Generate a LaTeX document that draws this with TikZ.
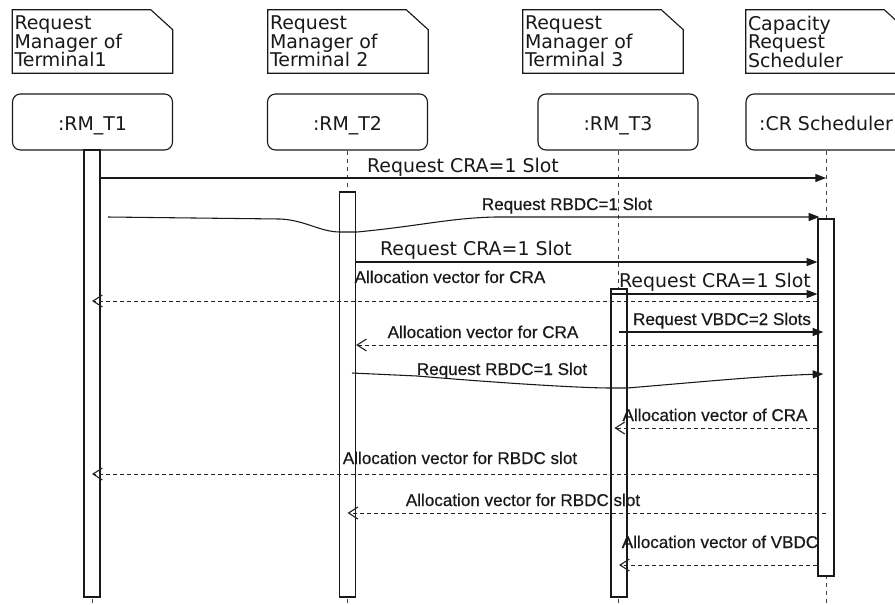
\documentclass[tikz,border=0pt]{standalone}
\usepackage{fontspec}
\setmainfont{DejaVu Sans}
\newfontfamily\arialf[FakeBold=0.5]{Liberation Sans}
\usetikzlibrary{arrows.meta}
\begin{document}
\begin{tikzpicture}[x=0.75pt,y=-0.75pt,
  bigfont/.style={font=\fontsize{14.2}{13.9}\selectfont},
  smallfont/.style={font=\arialf\fontsize{12.8}{14}\selectfont},
  notenode/.style={minimum width=120pt,minimum height=47.25pt,inner sep=1.5pt,
     text width=117pt,align=left,bigfont,text=black!90},
  noteline/.style={draw=black!90,line width=0.85pt},
  head/.style={draw=black!90,line width=0.85pt,rounded corners=6pt,minimum width=120pt,
     minimum height=42pt,bigfont,text height=12pt,text depth=0pt,text=black!90},
  bar/.style={draw=black!90,fill=white,line width=0.9pt,minimum width=12pt,inner sep=0pt},
  lifeline/.style={draw=black!75,line width=0.75pt,dash pattern=on 3.5pt off 2.5pt},
  msg/.style={draw=black!90,line width=0.8pt,-{Triangle[length=8pt,width=6pt]}},
  reply/.style={draw=black!85,line width=0.75pt,dash pattern=on 3pt off 2.25pt,
     -{Straight Barb[length=7pt,width=9pt,line width=0.85pt]}},
  lbl/.style={smallfont,anchor=base,inner sep=0pt,text=black!90},
  blbl/.style={bigfont,anchor=base,inner sep=0pt,text=black!90}
]
\useasboundingbox (0,0) rectangle (895,604);
\fill[white] (0,0) rectangle (895,604);
\clip (0,0) rectangle (895,604);

% notes
\node[notenode] (n1) at (92.5,41.5) {Request\\Manager of\\Terminal1};
\node[notenode] (n2) at (348,41.5) {Request\\Manager of\\Terminal 2};
\node[notenode] (n3) at (603,41.5) {Request\\Manager of\\Terminal 3};
\node[notenode] (n4) at (826,41.5) {Capacity\\Request\\Scheduler};
\foreach \n in {n1,n2,n3,n4}{
  \draw[noteline] (\n.north west) -- ([xshift=-16.5pt]\n.north east)
     -- ([yshift=-15pt]\n.north east) -- (\n.south east) -- (\n.south west) -- cycle;
}

% lifeline heads
\node[head] (h1) at (92.5,122) {:RM\_T1};
\node[head] (h2) at (347.5,122) {:RM\_T2};
\node[head] (h3) at (618,122) {:RM\_T3};
\node[head] (h4) at (826,122) {:CR Scheduler};

% lifelines
\foreach \h in {h1,h2,h3,h4}{
  \draw[lifeline] (\h.south) -- (\h.south |- 0,604);
}

% activation bars
\node[bar,minimum height=335.25pt] (a1) at (92,373.5) {};
\node[bar,minimum height=303.75pt] (a2) at (347.5,394.5) {};
\node[bar,minimum height=231pt] (a3) at (619,443) {};
\node[bar,minimum height=267.75pt] (a4) at (826,397.5) {};

% messages
\draw[msg] (a1.east |- 0,178) -- (h4.south |- 0,178);
\node[blbl] (t1) at (463,172) {Request CRA=1 Slot};

\coordinate (s2) at (108,217);
\draw[msg] (s2) -- (280,219) .. controls (305,220) and (320,232) .. (340,232) -- (357,232)
   .. controls (420,226) and (450,218) .. (495,217) -- ([xshift=1.5pt]a4.west |- 0,217);
\node[lbl] (t2) at (567,210) {Request RBDC=1 Slot};

\draw[msg] (a2.east |- 0,262) -- (a4.west |- 0,262);
\node[blbl] (t3) at (476,255) {Request CRA=1 Slot};

\draw[reply] (a4.west |- 0,301) -- (a1.center |- 0,301);
\node[lbl] (t4) at (450,283) {Allocation vector for CRA};

\draw[msg] (a3.west |- 0,294) -- (a4.west |- 0,294);
\node[blbl] (t5) at (715,287) {Request CRA=1 Slot};

\draw[msg] (a3.center |- 0,332) -- ([xshift=-2pt]h4.south |- 0,332);
\node[lbl] (t6) at (722,325) {Request VBDC=2 Slots};

\draw[reply] (a4.west |- 0,345) -- (a2.east |- 0,345);
\node[lbl] (t7) at (483,338) {Allocation vector for CRA};

\coordinate (s8) at (352,373);
\draw[msg] (s8) -- (417,376) .. controls (500,383) and (580,388) .. (611,388) -- (627,388)
   .. controls (700,382) and (760,376) .. ([xshift=-2pt]h4.south |- 0,374);
\node[lbl] (t8) at (502,375) {Request RBDC=1 Slot};

\draw[reply] (a4.west |- 0,428) -- ([xshift=3pt]a3.west |- 0,428);
\node[lbl] (t9) at (715,421) {Allocation vector of CRA};

\draw[reply] (a4.west |- 0,474) -- (a1.center |- 0,474);
\node[lbl] (t10) at (460,464) {Allocation vector for RBDC slot};

\draw[reply] (h4.south |- 0,513) -- (a2.center |- 0,513);
\node[lbl] (t11) at (523,506) {Allocation vector for RBDC slot};

\draw[reply] (a4.west |- 0,565) -- (a3.center |- 0,565);
\node[lbl] (t12) at (720,548) {Allocation vector of VBDC};
\end{tikzpicture}
\end{document}
